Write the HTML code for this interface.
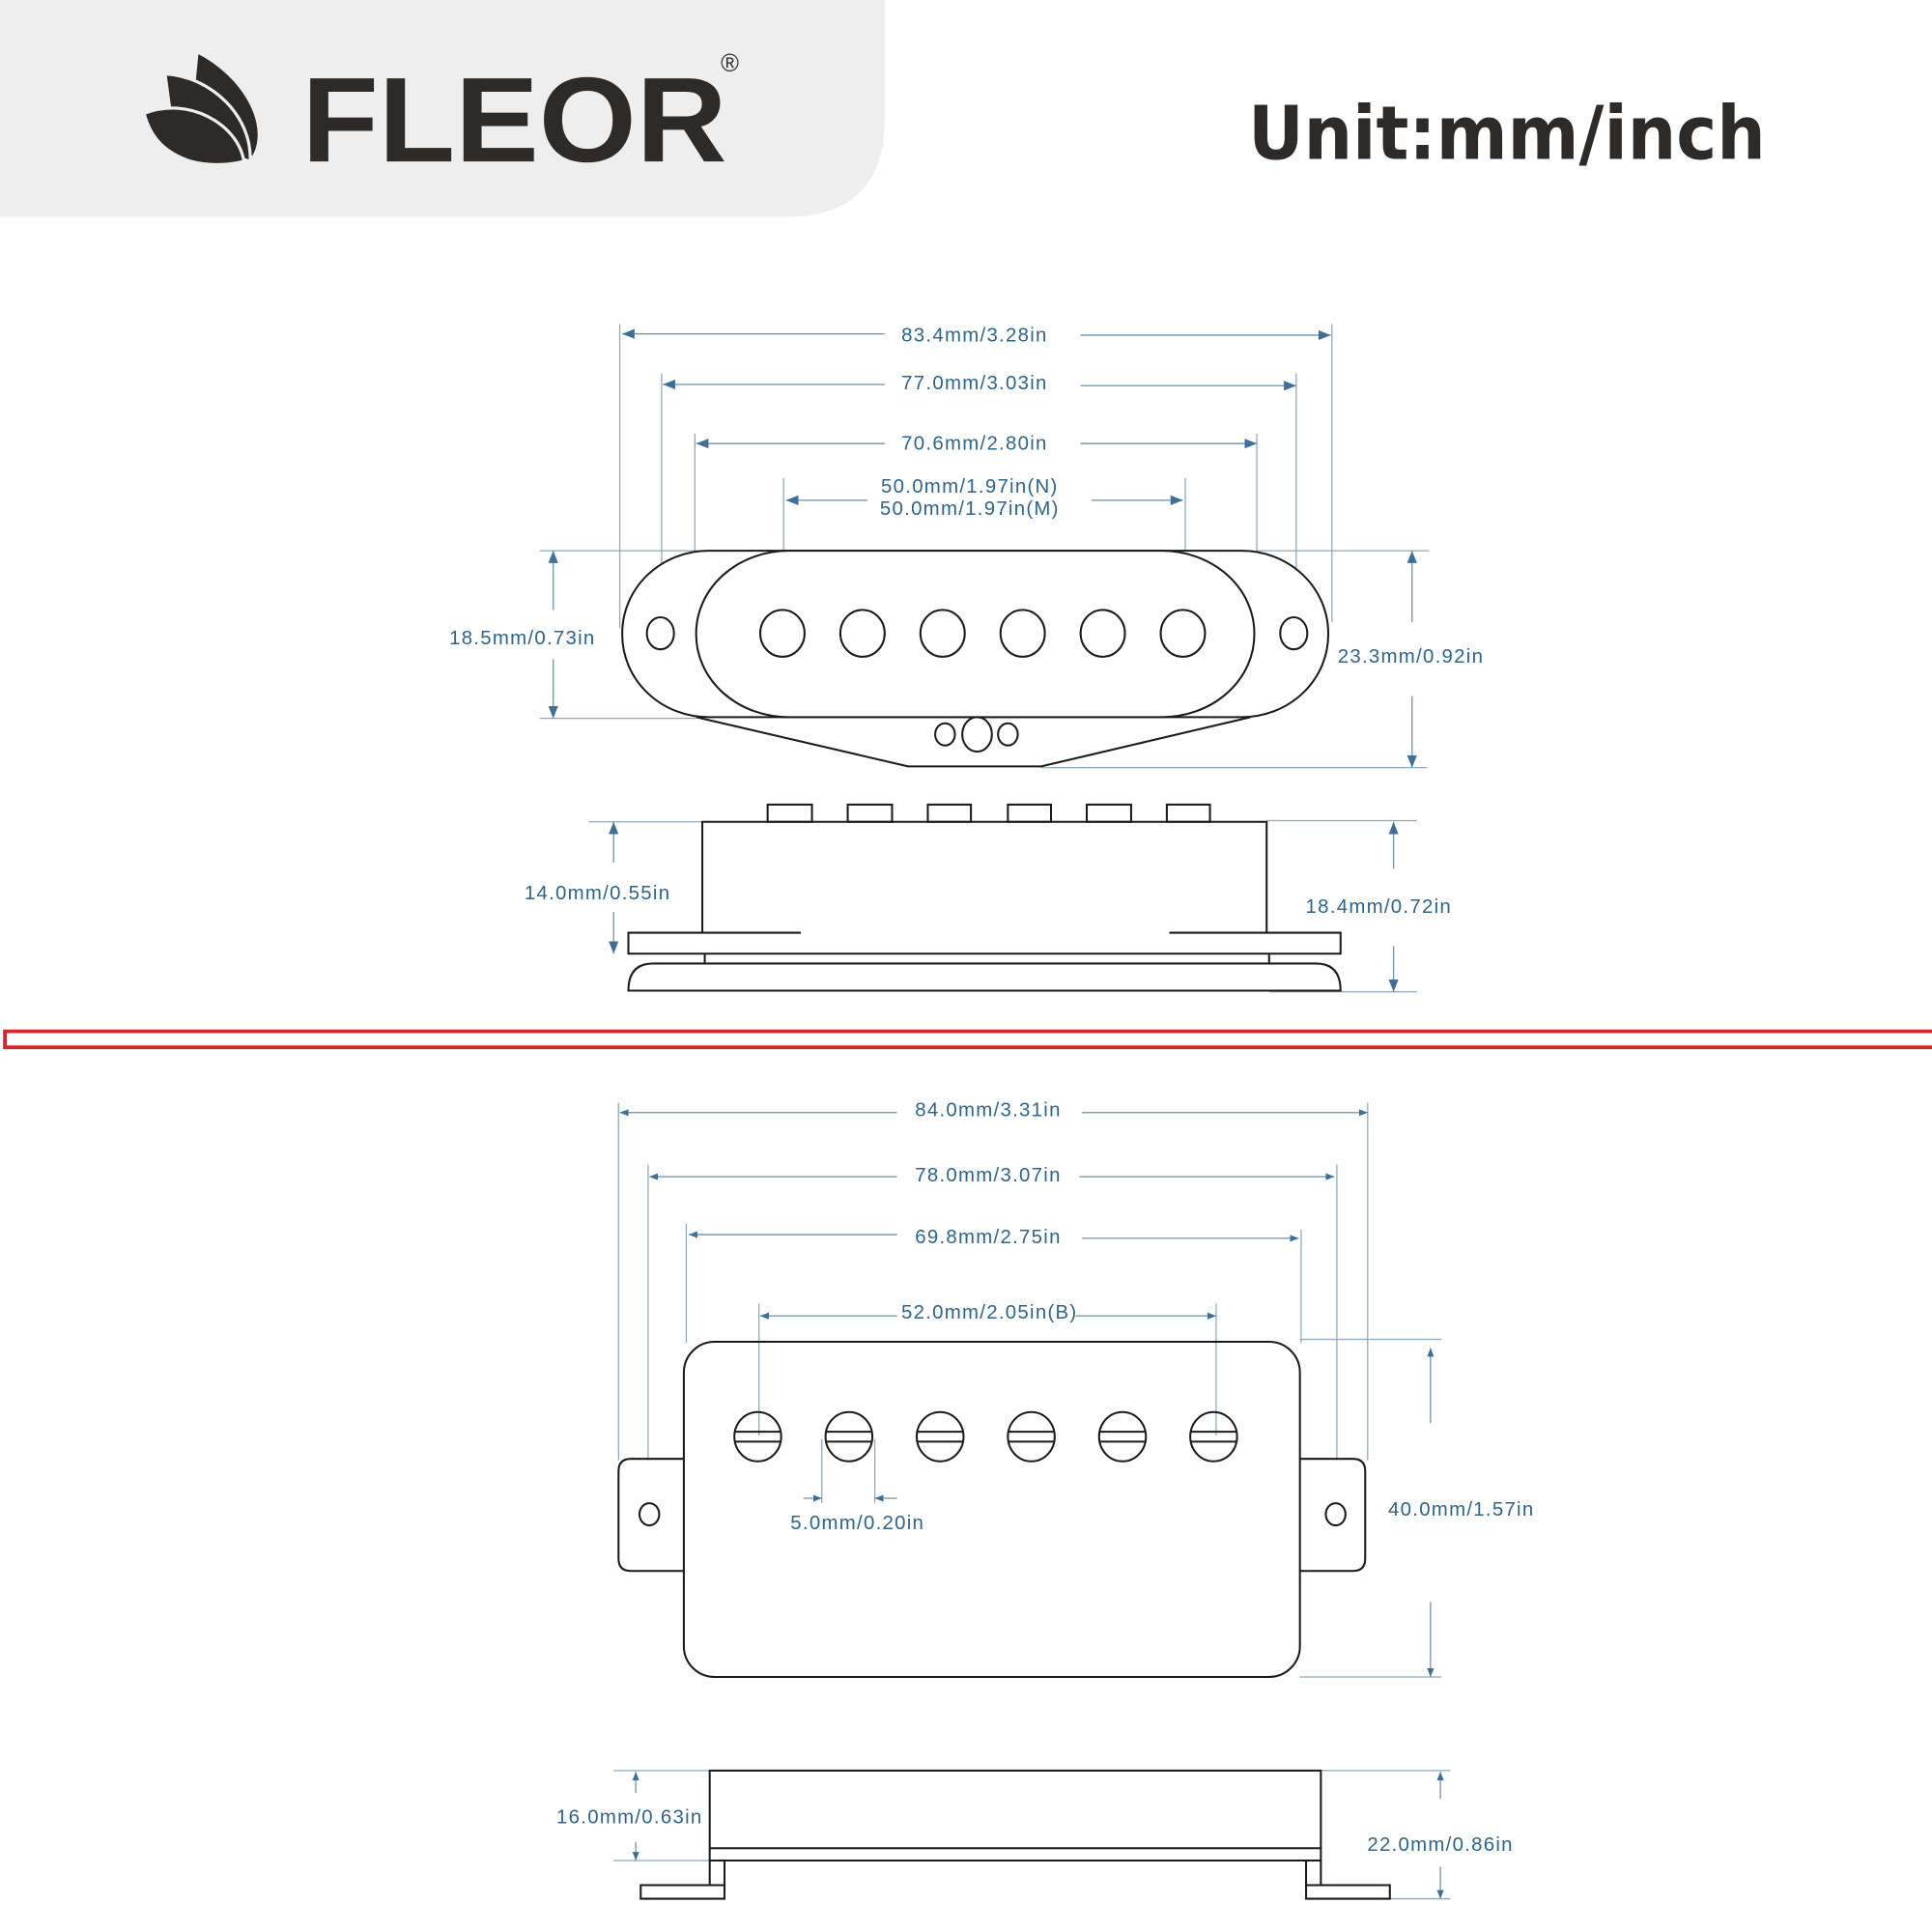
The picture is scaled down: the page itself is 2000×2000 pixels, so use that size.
<!DOCTYPE html>
<html><head><meta charset="utf-8"><style>html,body{margin:0;padding:0;background:#fff}svg{display:block}</style></head>
<body>
<svg width="2000" height="2000" viewBox="0 0 1568 1568" xmlns="http://www.w3.org/2000/svg">
<defs>
<marker id="a" viewBox="0 0 10 10" refX="10" refY="5" markerWidth="10" markerHeight="10" markerUnits="userSpaceOnUse" orient="auto-start-reverse"><path d="M0,1 L10,5 L0,9 z" fill="#3f6f96"/></marker>
<marker id="s" viewBox="0 0 10 10" refX="10" refY="5" markerWidth="7" markerHeight="7" markerUnits="userSpaceOnUse" orient="auto-start-reverse"><path d="M0,1 L10,5 L0,9 z" fill="#3f6f96"/></marker>
</defs>
<rect width="1568" height="1568" fill="#fff"/>
<path d="M0,0 H718 V96 Q718,176 638,176 H0 Z" fill="#eeeeee"/>
<!-- logo leaves -->
<g fill="#2e2a28" stroke="#eeeeee" stroke-width="2.5">
<path d="M160,42 C200,62 222,105 204,130 C198,100 182,80 157,72 Z"/>
<path d="M134,60 C172,62 205,95 203,131 L160,118 L138,90 Z"/>
<path d="M117,92 C152,78 193,100 198,131 C182,135 166,134 155,131 C134,124 122,112 117,92 Z"/>
</g>
<text x="245" y="131" font-family="Liberation Sans, sans-serif" font-weight="bold" font-size="98" fill="#2e2a28" textLength="345" lengthAdjust="spacingAndGlyphs">FLEOR</text>
<text x="585" y="58" font-family="Liberation Sans, sans-serif" font-size="20" fill="#2e2a28">®</text>
<text x="1013" y="129" font-family="DejaVu Sans, Liberation Sans, sans-serif" font-weight="bold" font-size="60" fill="#2e2a28" textLength="420" lengthAdjust="spacingAndGlyphs">Unit:mm/inch</text>

<g stroke="#8fa8bc" stroke-width="1" fill="none">
<path d="M503,263V510 M1081,263V505 M537,303V515 M1052,303V515 M564,352V545 M1020,352V540 M636,388V520 M962,388V520"/>
<path d="M438,447H570 M438,583H565 M1020,447H1160 M845,623H1158"/>
<path d="M478,667H570 M1028,666H1150 M1030,805H1150"/>
<path d="M502,895V1185 M1110,895V1185 M526,945V1185 M1085,945V1185 M557,993V1090 M1056,998V1090 M616,1058V1165 M987,1058V1165"/>
<path d="M1055,1087H1170 M1055,1361H1170 M667,1168V1220 M710,1168V1220"/>
<path d="M498,1437H576 M498,1510H576 M1072,1437H1177 M1120,1541H1177"/>
</g>
<g stroke="#6f8fa8" stroke-width="1" fill="none">
<path d="M505,271H718" marker-start="url(#a)"/><path d="M877,272H1080" marker-end="url(#a)"/>
<path d="M538,312H718" marker-start="url(#a)"/><path d="M877,313H1052" marker-end="url(#a)"/>
<path d="M565,360H718" marker-start="url(#a)"/><path d="M877,360H1020" marker-end="url(#a)"/>
<path d="M638,406H704" marker-start="url(#a)"/><path d="M886,406H960" marker-end="url(#a)"/>
<path d="M449,495V447" marker-end="url(#a)"/><path d="M449,535V583" marker-end="url(#a)"/>
<path d="M1146,505V447" marker-end="url(#a)"/><path d="M1146,565V623" marker-end="url(#a)"/>
<path d="M498,700V667" marker-end="url(#a)"/><path d="M498,740V774" marker-end="url(#a)"/>
<path d="M1131,705V667" marker-end="url(#a)"/><path d="M1131,768V805" marker-end="url(#a)"/>
<path d="M503,903H728" marker-start="url(#s)"/><path d="M878,903H1110" marker-end="url(#s)"/>
<path d="M527,955H728" marker-start="url(#s)"/><path d="M876,955H1083" marker-end="url(#s)"/>
<path d="M559,1002H728" marker-start="url(#s)"/><path d="M878,1005H1054" marker-end="url(#s)"/>
<path d="M617,1068H728" marker-start="url(#s)"/><path d="M873,1068H987" marker-end="url(#s)"/>
<path d="M652,1216H667" marker-end="url(#s)"/><path d="M728,1216H710" marker-end="url(#s)"/>
<path d="M1161,1155V1094" marker-end="url(#s)"/><path d="M1161,1300V1361" marker-end="url(#s)"/>
<path d="M516,1455V1438" marker-end="url(#s)"/><path d="M516,1495V1510" marker-end="url(#s)"/>
<path d="M1169,1460V1438" marker-end="url(#s)"/><path d="M1169,1515V1541" marker-end="url(#s)"/>
</g>

<g font-family="Liberation Sans, sans-serif" font-size="16" fill="#2f6388" letter-spacing="1" text-anchor="middle">
<text x="791" y="277">83.4mm/3.28in</text>
<text x="791" y="316">77.0mm/3.03in</text>
<text x="791" y="365">70.6mm/2.80in</text>
<text x="787" y="400">50.0mm/1.97in(N)</text>
<text x="787" y="418">50.0mm/1.97in(M)</text>
<text x="424" y="523">18.5mm/0.73in</text>
<text x="1145" y="538">23.3mm/0.92in</text>
<text x="485" y="730">14.0mm/0.55in</text>
<text x="1119" y="741">18.4mm/0.72in</text>
<text x="802" y="906">84.0mm/3.31in</text>
<text x="802" y="959">78.0mm/3.07in</text>
<text x="802" y="1009">69.8mm/2.75in</text>
<text x="803" y="1070">52.0mm/2.05in(B)</text>
<text x="696" y="1241">5.0mm/0.20in</text>
<text x="1186" y="1230">40.0mm/1.57in</text>
<text x="511" y="1480">16.0mm/0.63in</text>
<text x="1169" y="1502">22.0mm/0.86in</text>
</g>

<g stroke="#1a1a1a" stroke-width="1.6" fill="none">
<path d="M565,582 L737,622 L845,622 L1015,582"/>
<rect x="505" y="447" width="573" height="135" rx="70" ry="67" fill="#fff"/>
<rect x="565" y="447" width="453" height="135" rx="75" ry="67" fill="#fff"/>
<ellipse cx="635" cy="514" rx="18" ry="19"/><ellipse cx="700" cy="514" rx="18" ry="19"/><ellipse cx="765" cy="514" rx="18" ry="19"/>
<ellipse cx="830" cy="514" rx="18" ry="19"/><ellipse cx="895" cy="514" rx="18" ry="19"/><ellipse cx="960" cy="514" rx="18" ry="19"/>
<ellipse cx="536" cy="514" rx="11" ry="13"/><ellipse cx="1050" cy="514" rx="11" ry="13"/>
<ellipse cx="767" cy="596" rx="8" ry="9"/><ellipse cx="793" cy="596" rx="12" ry="14"/><ellipse cx="818" cy="596" rx="8" ry="9"/>
<rect x="623" y="653" width="36" height="14"/><rect x="688" y="653" width="36" height="14"/><rect x="753" y="653" width="35" height="14"/>
<rect x="818" y="653" width="35" height="14"/><rect x="882" y="653" width="36" height="14"/><rect x="947" y="653" width="35" height="14"/>
<path d="M570,757V667H1028V757"/>
<path d="M650,757H510V774H1088V757H949"/>
<path d="M572,774V782 M1030,774V782"/>
<path d="M510,804 Q510,782 530,782 H1068 Q1088,782 1088,804 Z"/>
<path d="M555,1184H512Q502,1184 502,1194V1265Q502,1275 512,1275H555"/>
<path d="M1055,1184H1098Q1108,1184 1108,1194V1265Q1108,1275 1098,1275H1055"/>
<rect x="555" y="1089" width="500" height="272" rx="25" fill="none"/>
<ellipse cx="527" cy="1229" rx="8" ry="9"/><ellipse cx="1084" cy="1229" rx="8" ry="9"/>
<g id="sc"><ellipse cx="615" cy="1166" rx="19" ry="20"/><path d="M596,1162H634M596,1170H634"/></g>
<use href="#sc" x="74"/><use href="#sc" x="148"/><use href="#sc" x="222"/><use href="#sc" x="296"/><use href="#sc" x="370"/>
<rect x="576" y="1437" width="496" height="63"/>
<path d="M576,1500V1510H1072V1500"/>
<path d="M588,1510V1530H520V1541H588V1530 M576,1510V1530"/>
<path d="M1060,1510V1530H1128V1541H1060V1530 M1072,1510V1530"/>
</g>
<g stroke="#d0282e" stroke-width="3" fill="none"><path d="M1568,837H4V850H1568"/></g>
</svg>
</body></html>
